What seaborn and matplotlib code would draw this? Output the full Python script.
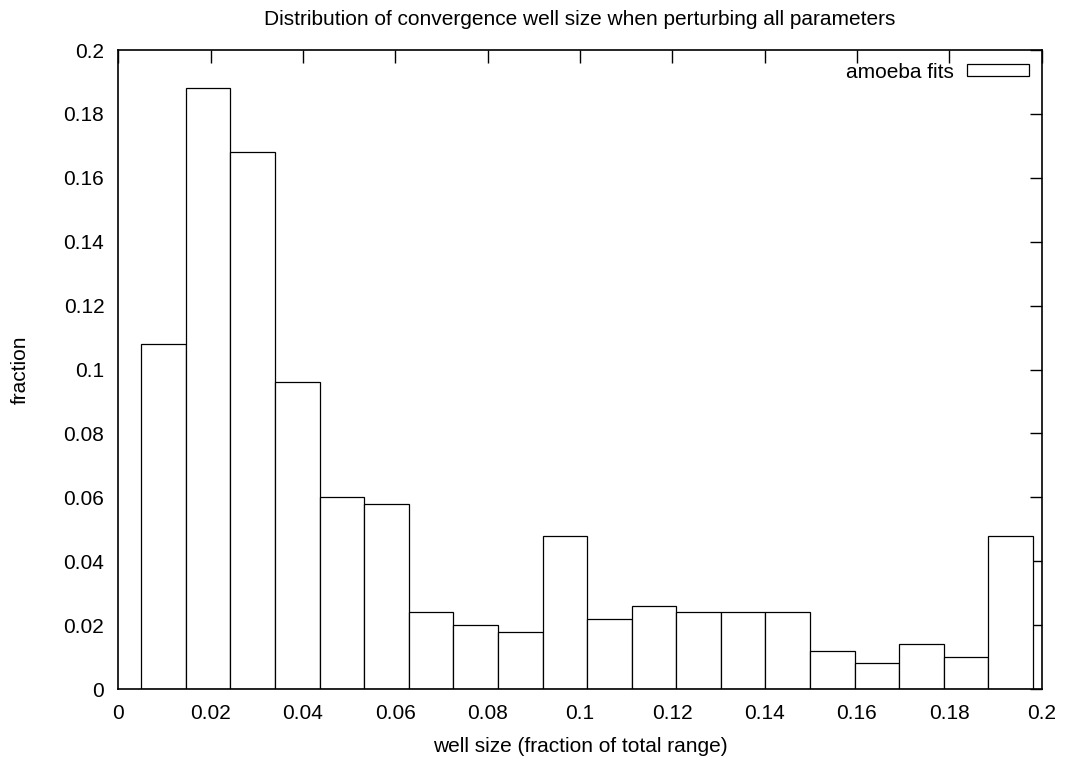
import matplotlib
matplotlib.use("Agg")
import matplotlib.pyplot as plt
from matplotlib.patches import Patch
import seaborn as sns
import pandas as pd

# --- data ---
bin_centers = [0.0098, 0.0194, 0.0291, 0.0388, 0.0484, 0.0581, 0.0677, 0.0774,
               0.0870, 0.0967, 0.1063, 0.1160, 0.1256, 0.1353, 0.1449, 0.1546,
               0.1643, 0.1739, 0.1836, 0.1932]
fractions = [0.108, 0.188, 0.168, 0.096, 0.060, 0.058, 0.024, 0.020, 0.018, 0.048,
             0.022, 0.026, 0.024, 0.024, 0.024, 0.012, 0.008, 0.014, 0.010, 0.048]
n_bins = 20
bin_range = (0.0050, 0.1981)
x_ticks = [0, 0.02, 0.04, 0.06, 0.08, 0.1, 0.12, 0.14, 0.16, 0.18, 0.2]
x_tick_labels = ["0", "0.02", "0.04", "0.06", "0.08", "0.1", "0.12", "0.14", "0.16", "0.18", "0.2"]
y_ticks = [0, 0.02, 0.04, 0.06, 0.08, 0.1, 0.12, 0.14, 0.16, 0.18, 0.2]
y_tick_labels = ["0", "0.02", "0.04", "0.06", "0.08", "0.1", "0.12", "0.14", "0.16", "0.18", "0.2"]
series_label = "amoeba fits"
title = "Distribution of convergence well size when perturbing all parameters"
xlabel = "well size (fraction of total range)"
ylabel = "fraction"

df = pd.DataFrame({"x": bin_centers, "w": fractions})

sns.set_theme(style="white")
plt.rcParams["font.family"] = ["Liberation Sans", "DejaVu Sans"]
plt.rcParams["text.color"] = "black"
plt.rcParams["axes.labelcolor"] = "black"

fig = plt.figure(figsize=(10.75, 7.58), dpi=100)
ax = fig.add_axes([0.110, 0.091, 0.859, 0.843])

sns.histplot(data=df, x="x", weights="w", bins=n_bins, binrange=bin_range,
             stat="count", element="bars", fill=True, color="white",
             edgecolor="black", linewidth=0.9, alpha=1.0, ax=ax)

ax.set_xlim(0, 0.2)
ax.set_ylim(0, 0.2)
ax.set_xticks(x_ticks)
ax.set_xticklabels(x_tick_labels)
ax.set_yticks(y_ticks)
ax.set_yticklabels(y_tick_labels)
ax.tick_params(direction="in", top=True, right=True, length=9, width=1,
               labelsize=15, colors="black")
ax.tick_params(axis="x", pad=11)
ax.tick_params(axis="y", pad=10)
for s in ax.spines.values():
    s.set_visible(True)
    s.set_color("black")
    s.set_linewidth(1.2)

ax.set_title(title, fontsize=15, pad=18, color="black")
ax.set_xlabel(xlabel, fontsize=15, labelpad=10, color="black")
ax.set_ylabel(ylabel, fontsize=15, labelpad=24, color="black")

handle = Patch(facecolor="white", edgecolor="black", linewidth=0.9)
leg = ax.legend([handle], [series_label], loc="upper right", frameon=False,
                markerfirst=False, handlelength=3.0, handleheight=0.5,
                fontsize=15, borderaxespad=0.3, borderpad=0.3, handletextpad=0.6)
for t in leg.get_texts():
    t.set_color("black")

fig.savefig("out.png", dpi=100, facecolor="white")
